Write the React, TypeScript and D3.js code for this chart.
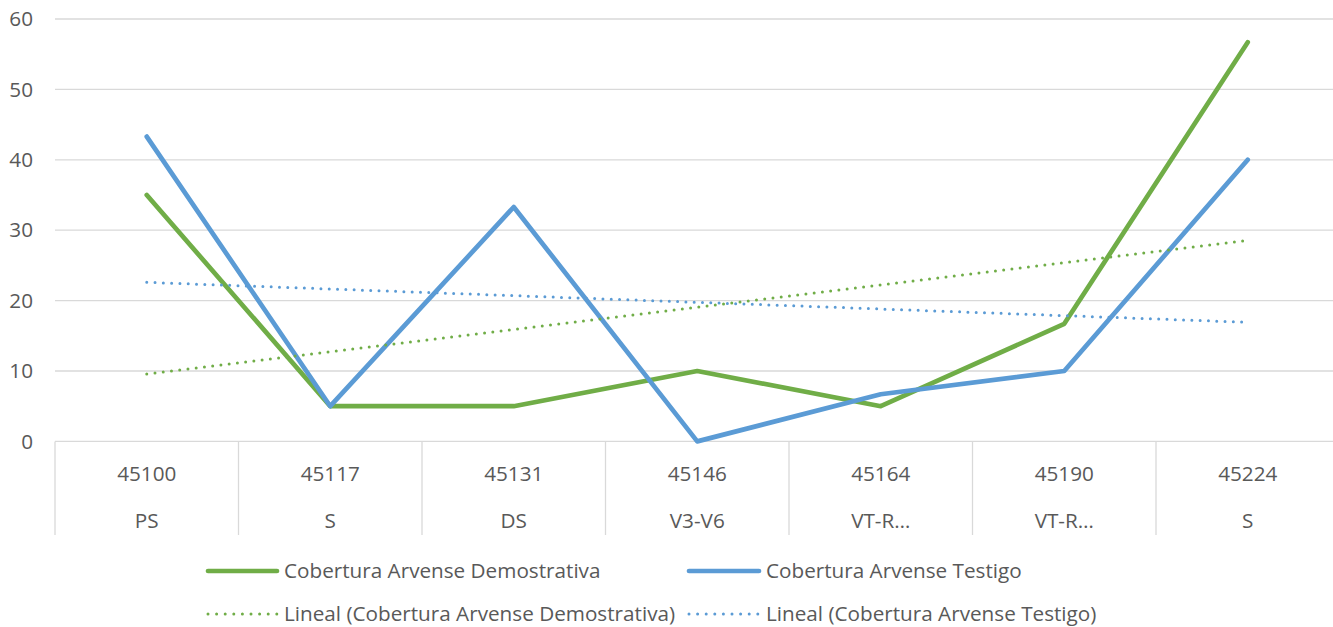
import React, { useEffect } from "react";
import * as d3 from "d3";

const dates = ["45100", "45117", "45131", "45146", "45164", "45190", "45224"];
const stages = ["PS", "S", "DS", "V3-V6", "VT-R…", "VT-R…", "S"];
const demostrativa = [35, 5, 5, 10, 5, 16.7, 56.7];
const testigo = [43.3, 5, 33.3, 0, 6.7, 10, 40];
const yTicks = [0, 10, 20, 30, 40, 50, 60];

const GREEN = "#70AD47";
const BLUE = "#5B9BD5";
const GRID = "#D9D9D9";
const TEXT = "#595959";
const FONT = "'Open Sans', Lato, sans-serif";

function linReg(vals: number[]) {
  const xs = vals.map((_, i) => i);
  const mx = d3.mean(xs)!;
  const my = d3.mean(vals)!;
  let num = 0, den = 0;
  xs.forEach((x, i) => { num += (x - mx) * (vals[i] - my); den += (x - mx) ** 2; });
  const b = num / den;
  const a = my - b * mx;
  return xs.map((x) => a + b * x);
}

export default function App() {
  useEffect(() => { document.body.style.margin = "0"; }, []);
  const W = 1333, H = 627;
  const left = 55, right = 1339.5, top = 19, bottom = 441.4;
  const x = d3.scalePoint<string>().domain(dates.map((_, i) => String(i))).range([left, right]).padding(0.5);
  const bw = (right - left) / dates.length;
  const y = d3.scaleLinear().domain([0, 60]).range([bottom, top]);
  const line = d3.line<number>().x((_, i) => x(String(i))!).y((d) => y(d));
  const trendG = linReg(demostrativa);
  const trendB = linReg(testigo);
  const dot = "0 8.3";
  const fs = 20.7;

  return (
    <svg width={W} height={H} style={{ display: "block", fontFamily: FONT }}>
      {yTicks.map((t) => (
        <g key={t}>
          <line x1={left} x2={W} y1={y(t)} y2={y(t)} stroke={GRID} strokeWidth={1.3} />
          <text x={33} y={y(t)} dy="0.35em" textAnchor="end" fontSize={fs} fill={TEXT}>{t}</text>
        </g>
      ))}
      {d3.range(dates.length + 1).map((i) => (
        <line key={i} x1={left + i * bw} x2={left + i * bw} y1={bottom} y2={535} stroke={GRID} strokeWidth={1.3} />
      ))}
      {dates.map((d, i) => (
        <g key={i}>
          <text x={x(String(i))} y={473.5} dy="0.35em" textAnchor="middle" fontSize={fs} fill={TEXT}>{d}</text>
          <text x={x(String(i))} y={520.5} dy="0.35em" textAnchor="middle" fontSize={fs} fill={TEXT}>{stages[i]}</text>
        </g>
      ))}
      <path d={line(demostrativa)!} fill="none" stroke={GREEN} strokeWidth={4.7} strokeLinecap="round" strokeLinejoin="round" />
      <path d={line(testigo)!} fill="none" stroke={BLUE} strokeWidth={4.7} strokeLinecap="round" strokeLinejoin="round" />
      <path d={line(trendG)!} fill="none" stroke={GREEN} strokeWidth={3} strokeLinecap="round" strokeDasharray={dot} />
      <path d={line(trendB)!} fill="none" stroke={BLUE} strokeWidth={3} strokeLinecap="round" strokeDasharray={dot} />

      <g fontSize={fs} fill={TEXT}>
        <line x1={208} x2={277} y1={571} y2={571} stroke={GREEN} strokeWidth={4.7} strokeLinecap="round" />
        <text x={284} y={571} dy="0.35em">Cobertura Arvense Demostrativa</text>
        <line x1={689} x2={759} y1={571} y2={571} stroke={BLUE} strokeWidth={4.7} strokeLinecap="round" />
        <text x={766} y={571} dy="0.35em">Cobertura Arvense Testigo</text>
        <line x1={208} x2={277} y1={614} y2={614} stroke={GREEN} strokeWidth={3} strokeLinecap="round" strokeDasharray="0 8.6" />
        <text x={284} y={614} dy="0.35em">Lineal (Cobertura Arvense Demostrativa)</text>
        <line x1={689} x2={759} y1={614} y2={614} stroke={BLUE} strokeWidth={3} strokeLinecap="round" strokeDasharray="0 8.6" />
        <text x={766} y={614} dy="0.35em">Lineal (Cobertura Arvense Testigo)</text>
      </g>
    </svg>
  );
}
